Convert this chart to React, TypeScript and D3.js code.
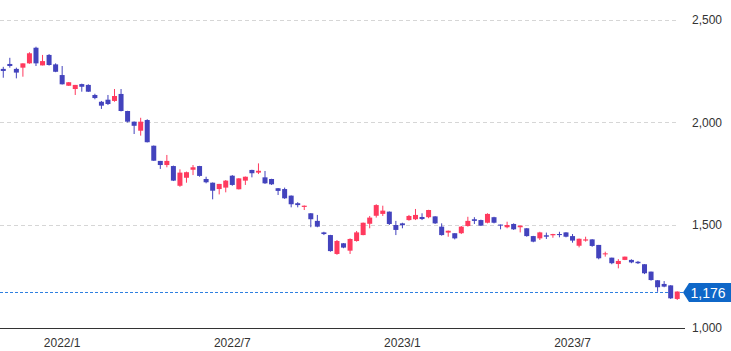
import React from "react";
import * as d3 from "d3";

// weekly candles, first week starts Mon 2021-11-01
const START = new Date(2021, 10, 1);

const OPEN = [
  2260, 2284, 2260, 2266, 2287, 2363, 2277, 2328, 2282, 2230, 2178, 2162, 2186,
  2182, 2133, 2100, 2110, 2104, 2138, 2055, 2003, 1959, 2011, 1886, 1812, 1792,
  1787, 1691, 1730, 1769, 1787, 1724, 1706, 1675, 1682, 1740, 1674, 1716, 1768,
  1755, 1732, 1724, 1679, 1675, 1643, 1606, 1588, 1557, 1520, 1464, 1451, 1359,
  1411, 1375, 1422, 1451, 1506, 1545, 1554, 1565, 1500, 1508, 1524, 1528, 1539,
  1538, 1542, 1492, 1463, 1460, 1460, 1495, 1528, 1524, 1511, 1538, 1502, 1489,
  1505, 1489, 1484, 1446, 1435, 1450, 1450, 1456, 1464, 1446, 1399, 1424, 1430,
  1403, 1357, 1341, 1310, 1330, 1330, 1321, 1309, 1273, 1231, 1213, 1206, 1140,
];
const HIGH = [
  2270, 2314, 2266, 2287, 2341, 2368, 2328, 2332, 2287, 2274, 2196, 2182, 2188,
  2185, 2139, 2104, 2133, 2162, 2162, 2056, 2004, 2022, 2015, 1887, 1812, 1841,
  1789, 1771, 1760, 1792, 1788, 1735, 1707, 1700, 1719, 1743, 1728, 1736, 1769,
  1800, 1763, 1725, 1680, 1682, 1644, 1611, 1595, 1558, 1549, 1467, 1452, 1427,
  1412, 1435, 1471, 1512, 1544, 1601, 1594, 1566, 1520, 1511, 1549, 1578, 1557,
  1574, 1543, 1508, 1473, 1460, 1495, 1540, 1538, 1526, 1557, 1540, 1502, 1516,
  1508, 1497, 1485, 1447, 1467, 1463, 1457, 1467, 1465, 1456, 1434, 1443, 1431,
  1403, 1370, 1341, 1334, 1346, 1333, 1325, 1309, 1273, 1232, 1227, 1207, 1177,
];
const LOW = [
  2217, 2266, 2214, 2222, 2285, 2274, 2277, 2276, 2244, 2184, 2177, 2133, 2149,
  2148, 2112, 2065, 2084, 2100, 2053, 1999, 1943, 1935, 1902, 1812, 1773, 1781,
  1714, 1686, 1706, 1743, 1735, 1703, 1625, 1649, 1659, 1691, 1673, 1695, 1732,
  1748, 1700, 1695, 1646, 1627, 1586, 1586, 1573, 1489, 1489, 1451, 1370, 1355,
  1387, 1359, 1419, 1450, 1484, 1536, 1544, 1500, 1451, 1484, 1521, 1524, 1524,
  1533, 1505, 1448, 1443, 1430, 1456, 1492, 1505, 1495, 1508, 1508, 1479, 1484,
  1476, 1464, 1443, 1416, 1427, 1432, 1438, 1440, 1440, 1414, 1391, 1419, 1394,
  1333, 1346, 1309, 1289, 1329, 1314, 1310, 1261, 1229, 1175, 1197, 1140, 1135,
];
const CLOSE = [
  2250, 2274, 2242, 2287, 2336, 2287, 2298, 2279, 2246, 2185, 2195, 2182, 2173,
  2149, 2118, 2081, 2089, 2128, 2055, 2003, 1983, 2003, 1903, 1813, 1792, 1812,
  1716, 1755, 1757, 1781, 1739, 1708, 1667, 1700, 1716, 1695, 1727, 1735, 1752,
  1764, 1703, 1698, 1666, 1630, 1601, 1597, 1594, 1528, 1492, 1456, 1373, 1422,
  1390, 1432, 1464, 1511, 1536, 1597, 1570, 1505, 1476, 1499, 1544, 1549, 1529,
  1573, 1508, 1451, 1472, 1435, 1492, 1520, 1520, 1497, 1554, 1511, 1497, 1500,
  1479, 1497, 1446, 1419, 1464, 1443, 1456, 1451, 1443, 1424, 1433, 1430, 1398,
  1338, 1362, 1314, 1325, 1346, 1318, 1314, 1265, 1232, 1197, 1200, 1143, 1176,
];

const Y_TICKS = [1000, 1500, 2000, 2500];

const UP = "#ff3a5e";
const DOWN = "#4343bd";
const FONT = "'Liberation Sans', Arial, sans-serif";

export default function App() {
  const width = 731;
  const height = 351;
  const plotRight = 680.5;

  const dates = d3.timeMonday.range(START, d3.timeWeek.offset(START, OPEN.length));
  const idx = d3.range(OPEN.length);

  const x = d3.scaleBand<number>().domain(idx).range([0, plotRight]);
  const y = d3.scaleLinear().domain([1000, 2500]).range([327.7, 19.6]);
  const crisp = (v: number) => Math.round(v) + 0.5;

  const bodyW = 5;
  const cx = (i: number) => (x(i) as number) + x.bandwidth() / 2;

  // label the first candle of Jan and Jul
  const xTicks = idx.filter((i) => {
    const d = dates[i];
    return (d.getMonth() === 0 || d.getMonth() === 6) && d.getDate() <= 7;
  });
  const fmt = d3.timeFormat("%Y/%-m");
  const last = CLOSE[CLOSE.length - 1];
  const yLast = crisp(y(last));

  return (
    <svg
      width={width}
      height={height}
      style={{ position: "absolute", left: 0, top: 0, background: "#fff" }}
    >
      {/* grid */}
      {Y_TICKS.filter((t) => t > 1000).map((t) => (
        <line
          key={t}
          x1={0}
          x2={679}
          y1={crisp(y(t))}
          y2={crisp(y(t))}
          stroke="#d6d6d6"
          strokeDasharray="4,3"
        />
      ))}
      <line
        x1={0}
        x2={685}
        y1={crisp(y(1000))}
        y2={crisp(y(1000))}
        stroke="#333"
        strokeWidth={1}
      />

      {/* y labels */}
      {Y_TICKS.map((t) => (
        <text
          key={t}
          x={692}
          y={y(t)}
          dy="0.35em"
          fontSize={12}
          fontFamily={FONT}
          fill="#333"
        >
          {d3.format(",")(t)}
        </text>
      ))}

      {/* x labels */}
      {xTicks.map((i) => (
        <text
          key={i}
          x={cx(i)}
          y={347}
          textAnchor="middle"
          fontSize={12}
          fontFamily={FONT}
          fill="#333"
        >
          {fmt(dates[i])}
        </text>
      ))}

      {/* last price line */}
      <line
        x1={0}
        x2={683}
        y1={yLast}
        y2={yLast}
        stroke="#2f80e0"
        strokeDasharray="3,2"
      />

      {/* candles */}
      {idx.map((i) => {
        const o = OPEN[i];
        const c = CLOSE[i];
        const up = c >= o;
        const col = up ? UP : DOWN;
        const top = y(Math.max(o, c));
        const bot = y(Math.min(o, c));
        return (
          <g key={i}>
            <line
              x1={cx(i)}
              x2={cx(i)}
              y1={y(HIGH[i])}
              y2={y(LOW[i])}
              stroke={col}
              strokeWidth={1}
            />
            <rect
              x={cx(i) - bodyW / 2}
              y={top}
              width={bodyW}
              height={Math.max(1, bot - top)}
              fill={col}
            />
          </g>
        );
      })}

      {/* last price badge */}
      <path
        d={`M683,${yLast} L689,${yLast - 9.5} H731 V${yLast + 9.5} H689 Z`}
        fill="#0f67c8"
      />
      <text
        x={708}
        y={yLast}
        dy="0.36em"
        textAnchor="middle"
        fontSize={14}
        fontFamily={FONT}
        fill="#fff"
      >
        {d3.format(",")(last)}
      </text>
    </svg>
  );
}
